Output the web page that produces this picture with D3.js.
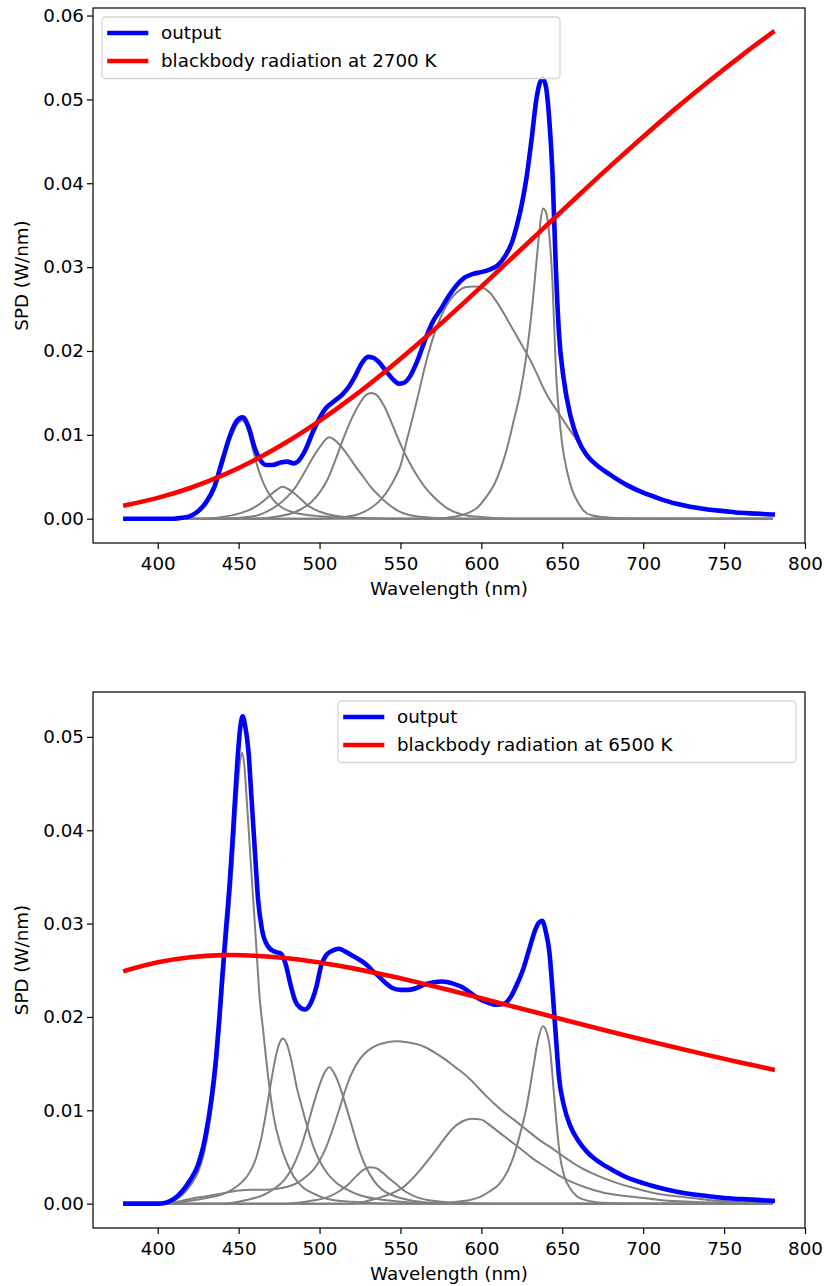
<!DOCTYPE html>
<html>
<head>
<meta charset="utf-8">
<script src="https://cdn.jsdelivr.net/npm/d3@7"></script>
<style>
  body { margin: 0; background: #fff; }
  svg text { font-family: "DejaVu Sans", sans-serif; }
</style>
</head>
<body>
<div id="chart"></div>
<script>
//// values ////
var wavelengthTicks = [400, 450, 500, 550, 600, 650, 700, 750, 800];
var warmSpdTicks = [0, 0.01, 0.02, 0.03, 0.04, 0.05, 0.06];
var coolSpdTicks = [0, 0.01, 0.02, 0.03, 0.04, 0.05];

var blackbodyWavelengths = [380, 400, 420, 440, 460, 480, 500, 520, 540, 560, 580, 600, 620, 640, 660, 680, 700, 720, 740, 760, 780];
var warmBlackbody = [0.00159, 0.00248, 0.00366, 0.00516, 0.00700, 0.00917, 0.01166, 0.01443, 0.01747, 0.02072, 0.02413, 0.02767, 0.03129, 0.03492, 0.03854, 0.04210, 0.04555, 0.04890, 0.05208, 0.05511, 0.05800];
var coolBlackbody = [0.02495, 0.02585, 0.02640, 0.02662, 0.02656, 0.02629, 0.02583, 0.02523, 0.02452, 0.02373, 0.02288, 0.02200, 0.02110, 0.02020, 0.01930, 0.01842, 0.01756, 0.01672, 0.01591, 0.01513, 0.01438];

// 2700 K panel, [wavelength nm, W/nm]
var warmOutput = [[380,0],[400,0],[410,0],[415,0.0001],[420,0.0003],[425,0.0009],[430,0.0020],[435,0.0038],[440,0.0070],[445,0.0101],[449,0.0117],[452.5,0.0121],[456,0.0110],[460,0.0084],[463,0.0071],[467,0.0064],[471,0.0064],[476,0.0067],[480,0.0068],[484,0.0066],[487,0.0069],[491,0.0081],[496,0.0104],[500,0.0120],[504,0.0132],[509,0.0140],[514,0.0148],[518,0.0157],[522,0.0170],[526,0.0185],[530,0.0193],[533,0.0192],[537,0.0186],[541,0.0176],[545,0.0167],[549,0.0161],[552,0.0162],[556,0.0170],[560,0.0186],[565,0.0212],[570,0.0235],[575,0.0250],[580,0.0266],[585,0.0279],[590,0.0288],[595,0.0292],[600,0.0294],[605,0.0297],[610,0.0302],[615,0.0314],[619,0.0330],[622,0.0350],[625,0.0375],[628,0.0408],[631,0.0452],[634,0.0500],[636,0.0519],[638,0.0525],[640,0.0514],[642,0.0475],[644,0.0410],[646,0.0300],[648,0.0220],[651,0.0165],[655,0.0123],[660,0.0093],[665,0.0076],[670,0.0066],[680,0.0052],[690,0.0040],[700,0.0031],[710,0.0024],[720,0.0018],[730,0.0014],[740,0.0011],[750,0.0009],[760,0.0007],[770,0.0006],[780,0.0005]];
var warmLed452 = [[380,0],[410,0],[420,0.0002],[425,0.0007],[430,0.0017],[435,0.0034],[440,0.0064],[445,0.0095],[449,0.0112],[452.5,0.0117],[456,0.0104],[459,0.0081],[462,0.0060],[465,0.0044],[468,0.0032],[472,0.0021],[477,0.0013],[483,0.0008],[490,0.0005],[500,0.0003],[520,0.0001],[560,0],[780,0]];
var warmLed477 = [[380,0],[430,0],[440,0.0002],[450,0.0006],[456,0.0010],[461,0.0015],[466,0.0022],[470,0.0029],[474,0.0035],[477,0.0038],[480,0.0036],[484,0.0031],[488,0.0024],[492,0.0017],[496,0.0012],[502,0.0007],[508,0.0004],[520,0.0001],[540,0],[780,0]];
var warmLed506 = [[380,0],[440,0],[455,0.0002],[462,0.0004],[468,0.0009],[474,0.0016],[480,0.0026],[485,0.0037],[490,0.0053],[495,0.0070],[500,0.0085],[506,0.0097],[512,0.0089],[517,0.0077],[522,0.0063],[527,0.0050],[532,0.0037],[537,0.0027],[542,0.0018],[548,0.0010],[556,0.0004],[570,0.0001],[590,0],[780,0]];
var warmLed532 = [[380,0],[460,0],[475,0.0003],[485,0.0008],[490,0.0013],[495,0.0020],[500,0.0031],[505,0.0047],[510,0.0071],[515,0.0097],[520,0.0120],[525,0.0138],[529,0.0148],[532,0.0150],[535,0.0148],[540,0.0134],[545,0.0112],[550,0.0089],[555,0.0069],[560,0.0052],[565,0.0038],[570,0.0027],[575,0.0018],[580,0.0011],[588,0.0005],[600,0.0002],[620,0],[780,0]];
var warmPhosphor595 = [[380,0],[500,0],[515,0.0002],[525,0.0006],[532,0.0013],[538,0.0023],[543,0.0036],[547,0.0050],[550,0.0063],[554,0.0094],[558,0.0124],[562,0.0156],[566,0.0188],[570,0.0215],[575,0.0241],[580,0.0259],[585,0.0270],[590,0.0276],[595,0.0277],[600,0.0276],[605,0.0270],[610,0.0257],[615,0.0241],[620,0.0224],[625,0.0207],[630,0.0190],[635,0.0170],[638,0.0157],[641,0.0146],[648,0.0125],[656,0.0102],[662,0.0086],[668,0.0070],[675,0.0058],[680,0.0051],[690,0.0039],[700,0.0030],[710,0.0023],[720,0.0017],[730,0.0013],[740,0.0010],[750,0.0008],[760,0.0006],[770,0.0005],[780,0.0004]];
var warmLed638 = [[380,0],[570,0],[585,0.0003],[592,0.0007],[598,0.0014],[603,0.0026],[608,0.0041],[612,0.0060],[616,0.0085],[620,0.0117],[624,0.0150],[628,0.0197],[631,0.0245],[634,0.0305],[636,0.0345],[638,0.0370],[640,0.0365],[642,0.0338],[644,0.0280],[646,0.0180],[648,0.0125],[650,0.0088],[653,0.0056],[656,0.0035],[659,0.0022],[663,0.0010],[668,0.0004],[680,0.0001],[700,0],[780,0]];

// 6500 K panel
var coolOutput = [[380,0],[400,0],[405,0.0001],[410,0.0005],[415,0.0013],[420,0.0025],[425,0.0042],[428,0.0060],[430,0.0077],[433,0.0110],[436,0.0155],[438,0.0197],[440,0.0245],[442,0.0290],[444.5,0.0344],[446.5,0.0397],[449,0.0468],[451,0.0510],[452.5,0.0522],[454,0.0512],[456,0.0486],[458,0.0433],[460,0.0379],[462,0.0326],[464.5,0.0293],[468,0.0276],[472,0.0270],[476,0.0268],[479,0.0257],[482,0.0235],[485,0.0217],[488,0.0210],[491,0.0208],[494,0.0213],[498,0.0232],[501,0.0255],[504,0.0266],[508,0.0271],[512,0.0273],[516,0.0270],[521,0.0265],[525,0.0261],[529,0.0256],[533,0.0249],[537,0.0243],[541,0.0236],[545,0.0231],[550,0.0229],[555,0.0229],[560,0.0231],[565,0.0235],[570,0.0237],[576,0.0238],[582,0.0236],[588,0.0232],[593,0.0226],[598,0.0220],[603,0.0216],[609,0.0213],[614,0.0214],[618,0.0221],[622,0.0235],[626,0.0252],[630,0.0275],[633,0.0292],[635.5,0.0301],[637.5,0.0303],[640,0.0290],[642,0.0270],[644,0.0228],[646,0.0180],[648,0.0135],[651,0.0105],[655,0.0083],[660,0.0067],[665,0.0056],[670,0.0048],[675,0.0042],[680,0.0037],[690,0.0028],[700,0.0022],[710,0.0017],[720,0.0013],[730,0.0010],[740,0.0008],[750,0.0006],[760,0.0005],[770,0.0004],[780,0.0003]];
var coolLed452 = [[380,0],[405,0],[410,0.0003],[415,0.0009],[420,0.0019],[425,0.0034],[428,0.0050],[430,0.0066],[433,0.0098],[436,0.0139],[438,0.0179],[440,0.0226],[442,0.0269],[444.5,0.0319],[446.5,0.0367],[449,0.0436],[450.5,0.0468],[452,0.0483],[453.5,0.0470],[455,0.0433],[457,0.0379],[459,0.0326],[461,0.0273],[463,0.0220],[465,0.0188],[467,0.0155],[469.5,0.0118],[472,0.0090],[475.5,0.0065],[480,0.0043],[484,0.0029],[490,0.0017],[496,0.0011],[505,0.0005],[520,0.0002],[550,0],[780,0]];
var coolLed477 = [[380,0],[405,0],[420,0.0003],[430,0.0006],[440,0.0010],[446,0.0015],[452,0.0023],[457,0.0034],[461,0.0050],[464,0.0070],[467,0.0098],[470,0.0130],[473,0.0158],[475.5,0.0173],[477.5,0.0177],[480,0.0170],[483,0.0150],[486,0.0124],[489,0.0104],[492,0.0085],[496,0.0062],[500,0.0046],[505,0.0032],[510,0.0023],[517,0.0015],[525,0.0009],[540,0.0004],[560,0.0001],[600,0],[780,0]];
var coolLed506 = [[380,0],[440,0],[455,0.0004],[465,0.0009],[472,0.0016],[478,0.0025],[483,0.0038],[488,0.0058],[492,0.0080],[496,0.0105],[500,0.0127],[503,0.0140],[506,0.0146],[509,0.0140],[512,0.0128],[515,0.0112],[519,0.0089],[522,0.0071],[525,0.0055],[529,0.0038],[533,0.0026],[538,0.0016],[545,0.0009],[555,0.0004],[570,0.0001],[600,0],[780,0]];
var coolLed532 = [[380,0],[480,0],[495,0.0003],[505,0.0007],[512,0.0013],[518,0.0021],[523,0.0030],[527,0.0036],[531,0.0039],[535,0.0038],[539,0.0033],[543,0.0027],[548,0.0020],[553,0.0013],[560,0.0007],[570,0.0003],[585,0.0001],[610,0],[780,0]];
var coolPhosphor548 = [[380,0],[405,0],[412,0.0002],[420,0.0005],[430,0.0008],[440,0.0011],[450,0.0014],[458,0.0015],[466,0.0015],[474,0.0016],[480,0.0018],[486,0.0022],[491,0.0028],[496,0.0036],[500,0.0046],[504,0.0060],[508,0.0079],[512,0.0100],[516,0.0122],[520,0.0140],[525,0.0155],[530,0.0164],[536,0.0170],[542,0.0173],[548,0.0174],[554,0.0173],[560,0.0171],[566,0.0167],[572,0.0161],[578,0.0154],[584,0.0146],[590,0.0138],[596,0.0128],[602,0.0117],[608,0.0107],[614,0.0098],[620,0.0090],[628,0.0079],[636,0.0068],[644,0.0059],[652,0.0049],[660,0.0040],[668,0.0033],[676,0.0027],[684,0.0022],[694,0.0017],[705,0.0012],[715,0.0009],[725,0.0007],[740,0.0004],[760,0.0002],[780,0.0001]];
var coolPhosphor595 = [[380,0],[520,0],[530,0.0003],[540,0.0008],[546,0.0012],[552,0.0018],[558,0.0028],[564,0.0040],[570,0.0053],[576,0.0067],[582,0.0080],[588,0.0088],[594,0.0091],[600,0.0090],[606,0.0083],[612,0.0075],[618,0.0067],[624,0.0059],[632,0.0048],[640,0.0039],[648,0.0030],[656,0.0023],[665,0.0017],[675,0.0012],[685,0.0009],[695,0.0007],[710,0.0004],[730,0.0002],[750,0.0001],[780,0.0001]];
var coolLed638 = [[380,0],[575,0],[585,0.0002],[593,0.0004],[599,0.0007],[605,0.0013],[611,0.0021],[616,0.0034],[620,0.0051],[624,0.0075],[628,0.0104],[632,0.0145],[635,0.0175],[638,0.0190],[640.5,0.0183],[642.5,0.0165],[644.5,0.0125],[646.5,0.0085],[648.5,0.0052],[651,0.0031],[655,0.0016],[659,0.0008],[664,0.0004],[675,0.0001],[700,0],[780,0]];
/////////

var width = 824, height = 1286;
var axLeft = 93, axRight = 805;
var fontSize = 18.3;

var panels = [
  { top: 8, bottom: 543, kelvin: 2700, output: warmOutput, blackbody: warmBlackbody,
    components: [warmLed452, warmLed477, warmLed506, warmLed532, warmPhosphor595, warmLed638],
    yTicks: warmSpdTicks, legendSide: "left" },
  { top: 692, bottom: 1228, kelvin: 6500, output: coolOutput, blackbody: coolBlackbody,
    components: [coolLed452, coolLed477, coolLed506, coolLed532, coolPhosphor548, coolPhosphor595, coolLed638],
    yTicks: coolSpdTicks, legendSide: "right" }
];

var svg = d3.select("#chart").append("svg")
    .attr("width", width)
    .attr("height", height);

// matplotlib style autoscale: data range plus 5% each side
function padded(lo, hi) {
  var m = (hi - lo) * 0.05;
  return [lo - m, hi + m];
}

var wlExtent = d3.extent(blackbodyWavelengths);
var x = d3.scaleLinear().domain(padded(wlExtent[0], wlExtent[1])).range([axLeft, axRight]);

panels.forEach(function(p) {
  var hi = d3.max([d3.max(p.output, function(d) { return d[1]; }), d3.max(p.blackbody)]);
  var y = d3.scaleLinear().domain(padded(0, hi)).range([p.bottom, p.top]);

  var g = svg.append("g");

  var line = d3.line()
      .x(function(d) { return x(d[0]); })
      .y(function(d) { return y(d[1]); })
      .curve(d3.curveMonotoneX);

  // single emitters, grey
  g.selectAll(".component")
      .data(p.components)
    .enter().append("path")
      .attr("class", "component")
      .attr("d", line)
      .attr("fill", "none")
      .attr("stroke", "#808080")
      .attr("stroke-width", 2);

  g.append("path")
      .datum(p.output)
      .attr("d", line)
      .attr("fill", "none")
      .attr("stroke", "#0000ff")
      .attr("stroke-width", 4.6)
      .attr("stroke-linecap", "square");

  var bbLine = d3.line()
      .x(function(d, i) { return x(blackbodyWavelengths[i]); })
      .y(function(d) { return y(d); })
      .curve(d3.curveCatmullRom);

  g.append("path")
      .datum(p.blackbody)
      .attr("d", bbLine)
      .attr("fill", "none")
      .attr("stroke", "#ff0000")
      .attr("stroke-width", 4.6)
      .attr("stroke-linecap", "square");

  // axes
  var xAxis = g.append("g")
      .attr("transform", "translate(0," + p.bottom + ")")
      .call(d3.axisBottom(x).tickValues(wavelengthTicks).tickSize(6).tickPadding(8).tickFormat(d3.format("d")));
  var yAxis = g.append("g")
      .attr("transform", "translate(" + axLeft + ",0)")
      .call(d3.axisLeft(y).tickValues(p.yTicks).tickSize(6).tickPadding(3).tickFormat(d3.format(".2f")));

  [xAxis, yAxis].forEach(function(a) {
    a.select(".domain").remove();
    a.attr("font-size", fontSize).attr("font-family", "DejaVu Sans");
    a.selectAll(".tick line").attr("stroke", "#000").attr("stroke-width", 1.2);
    a.selectAll(".tick text").attr("fill", "#000");
  });

  g.append("rect")
      .attr("x", axLeft)
      .attr("y", p.top)
      .attr("width", axRight - axLeft)
      .attr("height", p.bottom - p.top)
      .attr("fill", "none")
      .attr("stroke", "#000")
      .attr("stroke-width", 1.2);

  g.append("text")
      .attr("x", (axLeft + axRight) / 2)
      .attr("y", p.bottom + 52)
      .attr("text-anchor", "middle")
      .attr("font-size", fontSize)
      .text("Wavelength (nm)");

  g.append("text")
      .attr("transform", "translate(28," + (p.top + p.bottom) / 2 + ") rotate(-90)")
      .attr("text-anchor", "middle")
      .attr("font-size", fontSize)
      .text("SPD (W/nm)");

  // legend
  var legW = 458, legH = 61.5;
  var legX = p.legendSide === "left" ? axLeft + 9 : axRight - 9 - legW;
  var legY = p.top + 9;
  var leg = g.append("g").attr("transform", "translate(" + legX + "," + legY + ")");

  leg.append("rect")
      .attr("width", legW)
      .attr("height", legH)
      .attr("rx", 3.5)
      .attr("fill", "#fff")
      .attr("fill-opacity", 0.8)
      .attr("stroke", "#d6d6d6")
      .attr("stroke-width", 1.3);

  var entries = [
    { label: "output", color: "#0000ff" },
    { label: "blackbody radiation at " + p.kelvin + " K", color: "#ff0000" }
  ];

  entries.forEach(function(e, i) {
    var cy = 16 + i * 28;
    leg.append("line")
        .attr("x1", 7.5).attr("x2", 44)
        .attr("y1", cy).attr("y2", cy)
        .attr("stroke", e.color)
        .attr("stroke-width", 4.6)
        .attr("stroke-linecap", "square");
    leg.append("text")
        .attr("x", 59)
        .attr("y", cy)
        .attr("dy", "0.35em")
        .attr("font-size", fontSize)
        .text(e.label);
  });
});
</script>
</body>
</html>
